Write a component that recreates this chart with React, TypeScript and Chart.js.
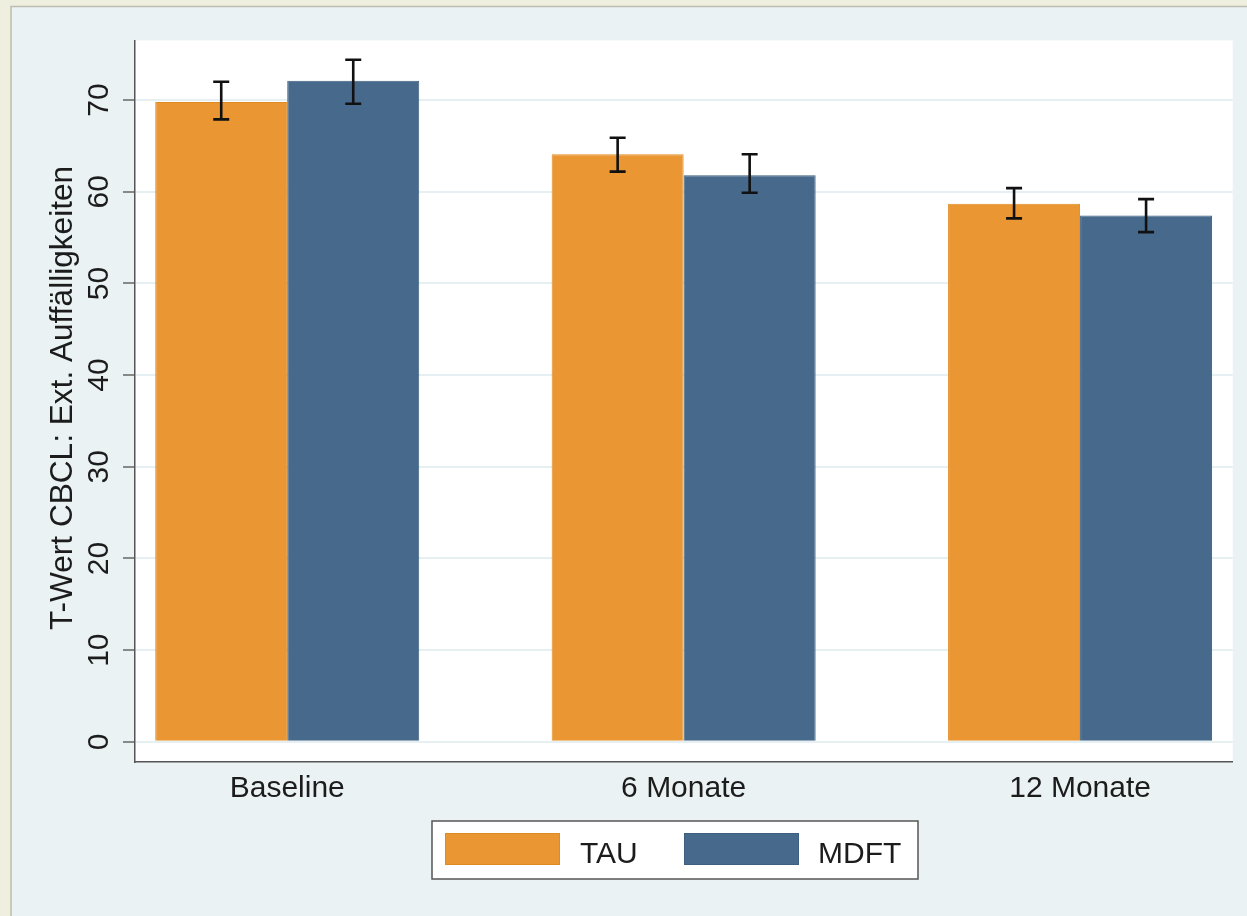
import React, { useEffect, useRef } from "react";
import { Chart, registerables } from "chart.js";

Chart.register(...registerables);

const categories = ["Baseline", "6 Monate", "12 Monate"];
const seriesNames = ["TAU", "MDFT"];
const tauMeans = [69.8, 64.1, 58.7];
const tauLow = [67.9, 62.2, 57.1];
const tauHigh = [72.0, 65.9, 60.4];
const mdftMeans = [72.1, 61.8, 57.4];
const mdftLow = [69.6, 59.9, 55.6];
const mdftHigh = [74.4, 64.1, 59.2];
const yTicks = [0, 10, 20, 30, 40, 50, 60, 70];
const yTitle = "T-Wert CBCL: Ext. Auffälligkeiten";

const FONT = '"Liberation Sans", Arial, sans-serif';
const TEXT = "#1c1c1c";
const ORANGE = "#EA9733";
const BLUE = "#476A8C";

const errLows = [tauLow, mdftLow];
const errHighs = [tauHigh, mdftHigh];

const decorPlugin = {
  id: "decor",
  beforeDraw(chart: any) {
    const { ctx, chartArea } = chart;
    const w = chart.width;
    const h = chart.height;
    ctx.save();
    ctx.fillStyle = "#EFEFE0";
    ctx.fillRect(0, 0, w, h);
    ctx.fillStyle = "#EAF2F3";
    ctx.fillRect(11, 7, w - 11, h - 7);
    ctx.strokeStyle = "#BDBDB0";
    ctx.lineWidth = 1.5;
    ctx.beginPath();
    ctx.moveTo(11, h);
    ctx.lineTo(11, 6.5);
    ctx.lineTo(w, 6.5);
    ctx.stroke();
    ctx.fillStyle = "#FFFFFF";
    ctx.fillRect(chartArea.left, chartArea.top, chartArea.right - chartArea.left, chartArea.bottom - chartArea.top);
    ctx.restore();
  },
  afterDatasetsDraw(chart: any) {
    const { ctx } = chart;
    const yScale = chart.scales.y;
    ctx.save();
    ctx.strokeStyle = "#111111";
    ctx.lineWidth = 2.6;
    ctx.lineCap = "butt";
    chart.data.datasets.forEach((_: any, di: number) => {
      const meta = chart.getDatasetMeta(di);
      meta.data.forEach((bar: any, j: number) => {
        const x = bar.x;
        const yl = yScale.getPixelForValue(errLows[di][j]);
        const yh = yScale.getPixelForValue(errHighs[di][j]);
        const cap = 8;
        ctx.beginPath();
        ctx.moveTo(x, yl);
        ctx.lineTo(x, yh);
        ctx.moveTo(x - cap, yh);
        ctx.lineTo(x + cap, yh);
        ctx.moveTo(x - cap, yl);
        ctx.lineTo(x + cap, yl);
        ctx.stroke();
      });
    });
    ctx.restore();
  },
  afterDraw(chart: any) {
    const { ctx } = chart;
    const yScale = chart.scales.y;
    const xScale = chart.scales.x;
    ctx.save();
    ctx.fillStyle = TEXT;
    ctx.font = `30px ${FONT}`;
    ctx.textAlign = "center";
    ctx.textBaseline = "alphabetic";
    // y tick labels (rotated)
    yTicks.forEach((v) => {
      const y = yScale.getPixelForValue(v);
      ctx.save();
      ctx.translate(108, y);
      ctx.rotate(-Math.PI / 2);
      ctx.fillText(String(v), 0, 0);
      ctx.restore();
    });
    // y title
    ctx.save();
    ctx.font = `31.6px ${FONT}`;
    ctx.translate(72, 398);
    ctx.rotate(-Math.PI / 2);
    ctx.fillText(yTitle, 0, 0);
    ctx.restore();
    // x labels
    categories.forEach((c, i) => {
      ctx.fillText(c, xScale.getPixelForValue(i), 797);
    });
    // legend
    ctx.fillStyle = "#FFFFFF";
    ctx.fillRect(432, 821, 486, 58);
    ctx.strokeStyle = "#555555";
    ctx.lineWidth = 1.5;
    ctx.strokeRect(432, 821, 486, 58);
    const swX = [445, 684];
    const txX = [580, 818];
    chart.data.datasets.forEach((ds: any, i: number) => {
      ctx.fillStyle = ds.backgroundColor;
      ctx.fillRect(swX[i], 833, 115, 32);
      ctx.strokeStyle = ds.borderColor;
      ctx.lineWidth = 1;
      ctx.strokeRect(swX[i] + 0.5, 833.5, 114, 31);
      ctx.fillStyle = TEXT;
      ctx.textAlign = "left";
      ctx.fillText(ds.label, txX[i], 863);
    });
    ctx.restore();
  },
};

export default function App() {
  const canvasRef = useRef<HTMLCanvasElement | null>(null);

  useEffect(() => {
    document.body.style.margin = "0";
    const canvas = canvasRef.current;
    if (!canvas) return;
    const chart = new Chart(canvas, {
      type: "bar",
      data: {
        datasets: [
          {
            label: seriesNames[0],
            data: tauMeans.map((v, i) => ({ x: i, y: v })),
            backgroundColor: ORANGE,
            borderColor: "#E08A22",
            borderWidth: 1,
          },
          {
            label: seriesNames[1],
            data: mdftMeans.map((v, i) => ({ x: i, y: v })),
            backgroundColor: BLUE,
            borderColor: "#3D5E7F",
            borderWidth: 1,
          },
        ],
      },
      options: {
        animation: false,
        responsive: false,
        devicePixelRatio: 1,
        layout: { padding: { left: 123, top: 40.5, right: 14.3, bottom: 154 } },
        datasets: { bar: { categoryPercentage: 0.666, barPercentage: 1.0 } },
        plugins: { legend: { display: false }, tooltip: { enabled: false } },
        scales: {
          x: {
            type: "linear",
            offset: false,
            min: -0.384,
            max: 2.385,
            afterBuildTicks: (scale: any) => {
              scale.ticks = categories.map((_, i) => ({ value: i }));
            },
            ticks: { display: false },
            grid: { display: false, drawTicks: false, offset: false },
            border: { display: true, color: "#555555", width: 1.5 },
          },
          y: {
            type: "linear",
            min: -2.2,
            max: 76.5,
            afterBuildTicks: (scale: any) => {
              scale.ticks = yTicks.map((v) => ({ value: v }));
            },
            ticks: { display: false },
            grid: {
              color: "#E6EFF1",
              lineWidth: 2,
              drawTicks: true,
              tickLength: 12,
              tickColor: "#666666",
              tickWidth: 1.5,
            },
            border: { display: true, color: "#555555", width: 1.5 },
          },
        },
      },
      plugins: [decorPlugin],
    } as any);
    return () => chart.destroy();
  }, []);

  return (
    <div style={{ position: "fixed", left: 0, top: 0, width: 1247, height: 916 }}>
      <canvas ref={canvasRef} width={1247} height={916} style={{ display: "block" }} />
    </div>
  );
}
